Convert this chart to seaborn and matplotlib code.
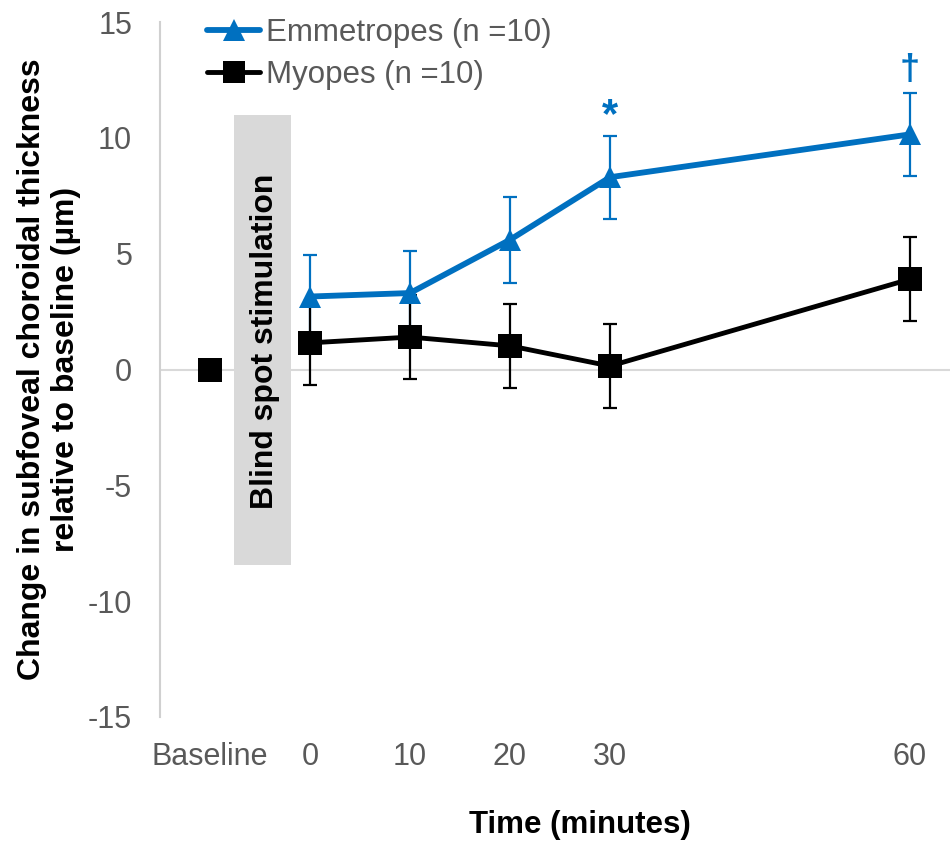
import numpy as np
import pandas as pd
import matplotlib
matplotlib.use("Agg")
import matplotlib.pyplot as plt
import seaborn as sns
from matplotlib.lines import Line2D

# ---- data ----
time_points = [0, 10, 20, 30, 60]
tick_positions = [-10, 0, 10, 20, 30, 60]
tick_labels = ["Baseline", "0", "10", "20", "30", "60"]
emm_mean = [3.15, 3.3, 5.6, 8.3, 10.15]
emm_err = [1.8, 1.8, 1.85, 1.8, 1.8]
myo_mean = [1.15, 1.4, 1.02, 0.15, 3.9]
myo_err = [1.8, 1.8, 1.8, 1.8, 1.8]
baseline_x = [-10]
baseline_y = [0.0]
series_names = ["Emmetropes (n =10)", "Myopes (n =10)"]

BLUE = "#0070C0"
GRAY_TXT = "#595959"

sns.set_theme(style="white")
plt.rcParams["font.family"] = ["Liberation Sans", "DejaVu Sans"]
plt.rcParams["axes.unicode_minus"] = False

fig = plt.figure(figsize=(9.52, 8.44), dpi=100)
ax = fig.add_axes([160/952, 1-717/844, 790/952, 695/844])

df = pd.DataFrame({
    "time": time_points * 2,
    "value": emm_mean + myo_mean,
    "group": [series_names[0]] * 5 + [series_names[1]] * 5,
})

# shaded stimulation band
ax.fill_between([-7.6, -1.9], [-8.45, -8.45], [11.0, 11.0], color="#d9d9d9", lw=0, zorder=1)
ax.text(-4.55, 1.2, "Blind spot stimulation", rotation=90, ha="center", va="center",
        fontsize=23, fontweight="bold", color="black", zorder=2)

# zero line
ax.axhline(0, color="#d9d9d9", lw=1.5, zorder=1)

# error bars
ax.errorbar(time_points, emm_mean, yerr=emm_err, fmt="none", ecolor=BLUE,
            elinewidth=1.6, capsize=5, capthick=1.6, zorder=3)
ax.errorbar(time_points, myo_mean, yerr=myo_err, fmt="none", ecolor="black",
            elinewidth=1.6, capsize=5, capthick=1.6, zorder=3)

sns.lineplot(data=df, x="time", y="value", hue="group", style="group",
             palette={series_names[0]: BLUE, series_names[1]: "black"},
             markers={series_names[0]: "^", series_names[1]: "s"},
             dashes=False, ax=ax, legend=False, zorder=4)
for ln in ax.get_lines():
    if ln.get_marker() == "s":
        ln.set_linewidth(3.5)
        ln.set_markersize(17.5)
        ln.set_markeredgewidth(0)
    elif ln.get_marker() == "^":
        ln.set_linewidth(4.2)
        ln.set_markersize(16.5)
        ln.set_markeredgewidth(0)

sns.scatterplot(x=baseline_x, y=baseline_y, marker="s", color="black", s=310,
                linewidth=0, ax=ax, zorder=4)

# annotations
ax.text(30, 10.95, "*", ha="center", va="center", fontsize=30, fontweight="bold", color=BLUE)
ax.text(60, 12.9, "\u2020", ha="center", va="center", fontsize=26, fontweight="bold", color=BLUE)

ax.set_xlim(-15, 64)
ax.set_ylim(-15, 15)
ax.set_yticks(np.arange(-15, 16, 5))
ax.set_xticks(tick_positions)
ax.set_xticklabels(tick_labels)
ax.tick_params(axis="both", length=0, labelsize=22, labelcolor=GRAY_TXT)
ax.tick_params(axis="x", pad=18)
ax.tick_params(axis="y", pad=20)

for s in ["top", "right", "bottom"]:
    ax.spines[s].set_visible(False)
ax.spines["left"].set_color("#d0d0d0")
ax.spines["left"].set_linewidth(1.5)

ax.set_xlabel("Time (minutes)", fontsize=22.5, fontweight="bold", color="black")
ax.xaxis.set_label_coords((580-160)/790, -(825-717)/695)
ax.xaxis.label.set_va("center")
ax.set_ylabel("Change in subfoveal choroidal thickness\nrelative to baseline (\u00b5m)",
              fontsize=23, fontweight="bold", color="black", linespacing=1.2)
ax.yaxis.set_label_coords(-(160-49)/790, 0.5)
ax.yaxis.label.set_va("center")

handles = [
    Line2D([], [], color=BLUE, lw=4.2, marker="^", markersize=16, markeredgewidth=0),
    Line2D([], [], color="black", lw=3.5, marker="s", markersize=16, markeredgewidth=0),
]
leg = fig.legend(handles, series_names, loc="upper left", bbox_to_anchor=(207/952, 1-18/844),
                 frameon=False, fontsize=22.5, handlelength=1.7, handletextpad=0.2,
                 labelspacing=0.38, borderpad=0, borderaxespad=0)
for t in leg.get_texts():
    t.set_color(GRAY_TXT)

fig.savefig("out.png", dpi=100)
